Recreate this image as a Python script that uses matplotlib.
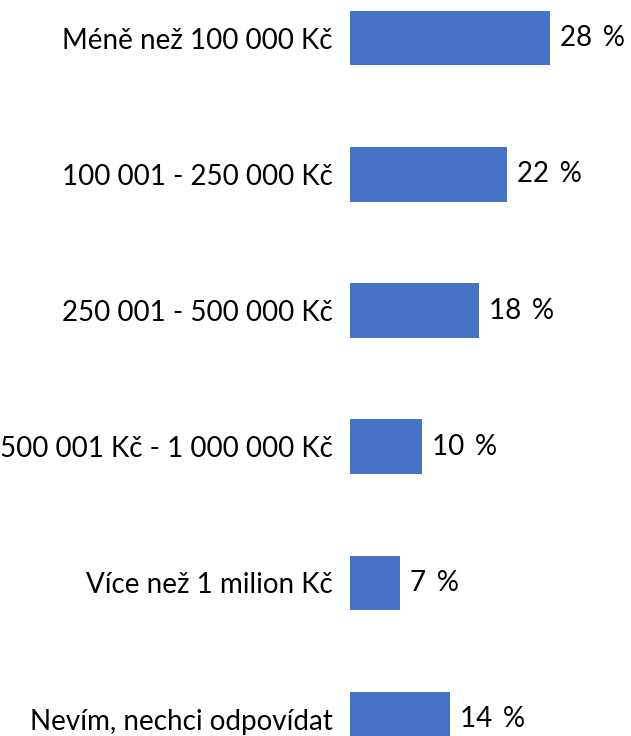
import matplotlib
matplotlib.use("Agg")
import matplotlib.pyplot as plt

categories = ["Méně než 100 000 Kč", "100 001 - 250 000 Kč", "250 001 - 500 000 Kč",
              "500 001 Kč - 1 000 000 Kč", "Více než 1 milion Kč", "Nevím, nechci odpovídat"]
values = [28, 22, 18, 10, 7, 14]
value_labels = ["28 %", "22 %", "18 %", "10 %", "7 %", "14 %"]

plt.rcParams['font.family'] = ['Lato', 'DejaVu Sans']

fig = plt.figure(figsize=(6.31, 7.36), dpi=100)
ax = fig.add_axes([350 / 631, 0, 281 / 631, 1])
y = list(range(len(categories)))
ax.barh(y, values, height=0.4, color="#4472C4")
ax.set_xlim(0, 281 / 7.15)
ax.set_ylim(5 + 17 / 136.2, -38.2 / 136.2)
for yi, v, lab in zip(y, values, value_labels):
    ax.annotate(lab.replace(" ", "\u2009 "), (v, yi), xytext=(10, 0), textcoords="offset pixels",
                va="center", ha="left", fontsize=20, color="black")
ax.set_yticks(y)
ax.set_yticklabels(categories, fontsize=20)
ax.tick_params(axis="y", length=0, pad=12.3)
ax.set_xticks([])
for s in ax.spines.values():
    s.set_visible(False)
fig.savefig("out.png", dpi=100)
